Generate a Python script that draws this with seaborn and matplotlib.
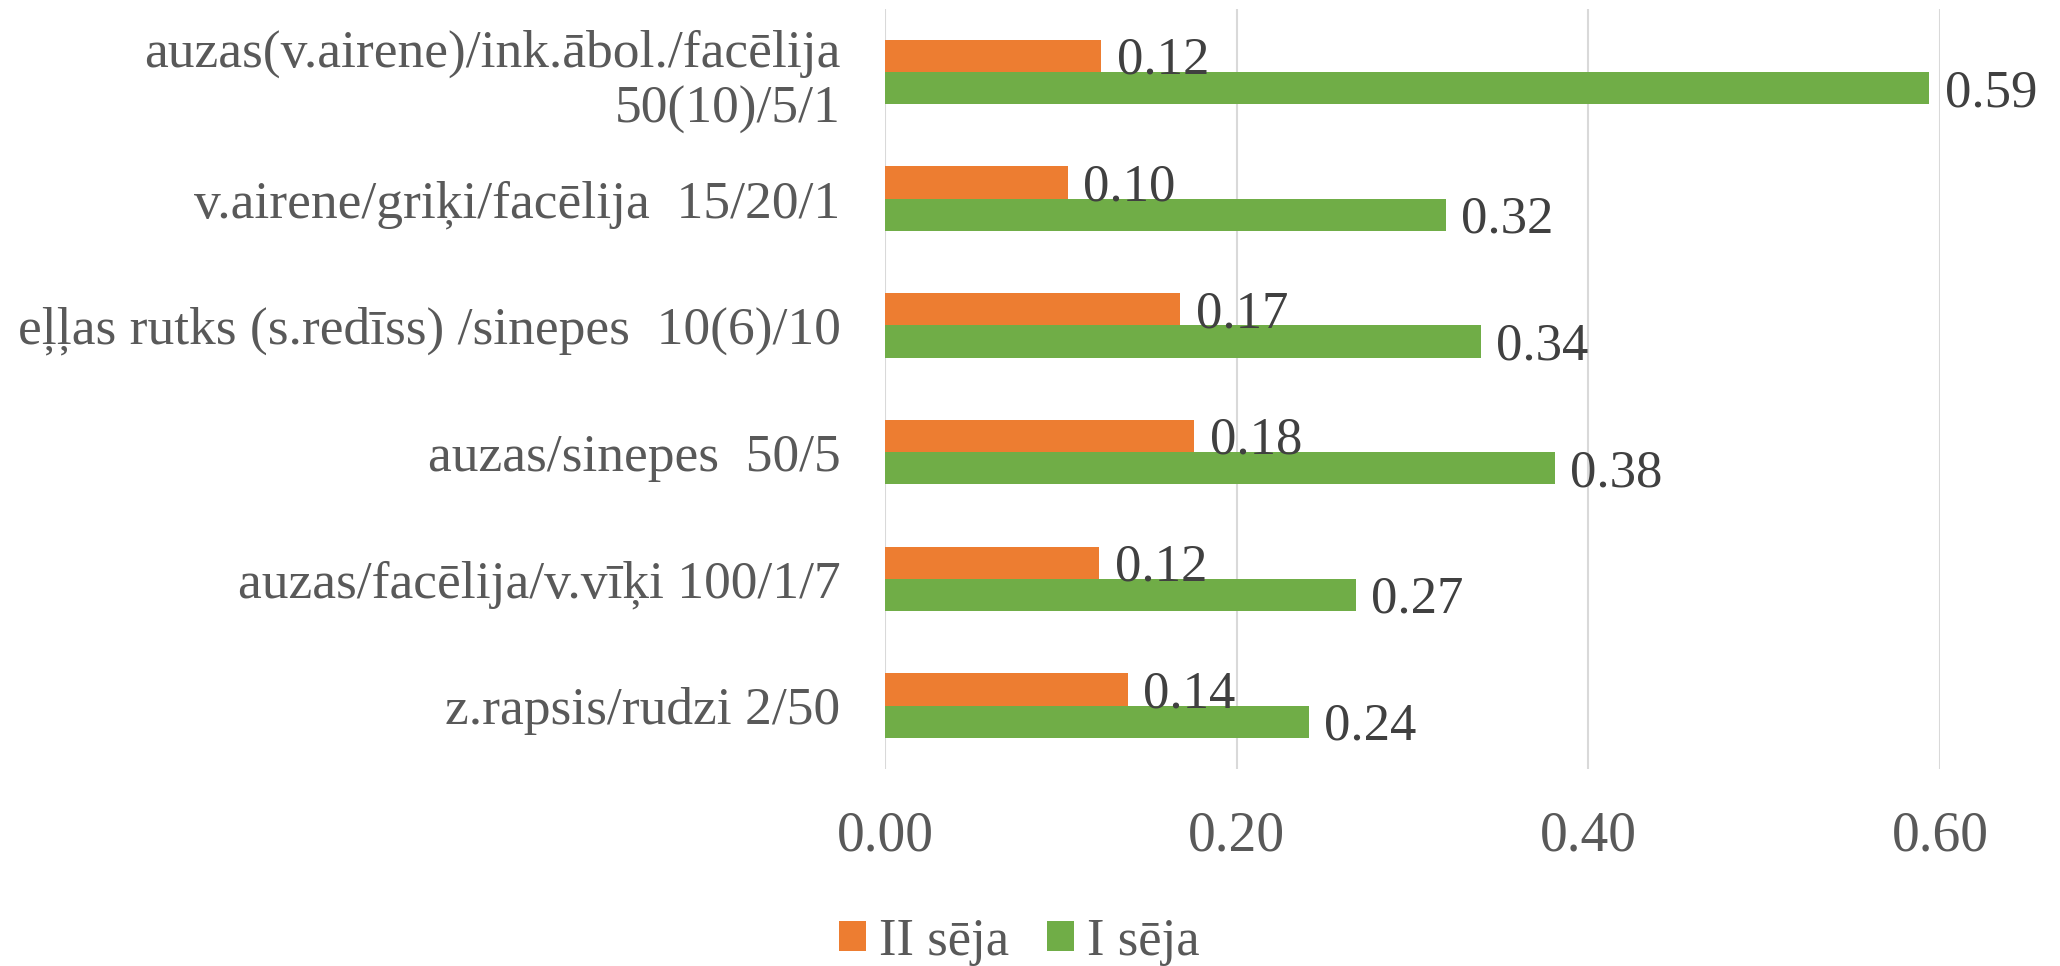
import matplotlib
matplotlib.use("Agg")
import matplotlib.pyplot as plt
import pandas as pd
import seaborn as sns

categories = [
    "auzas(v.airene)/ink.ābol./facēlija\n50(10)/5/1",
    "v.airene/griķi/facēlija  15/20/1",
    "eļļas rutks (s.redīss) /sinepes  10(6)/10",
    "auzas/sinepes  50/5",
    "auzas/facēlija/v.vīķi 100/1/7",
    "z.rapsis/rudzi 2/50",
]
sowing_2 = [0.123, 0.104, 0.168, 0.176, 0.122, 0.138]
sowing_1 = [0.594, 0.319, 0.339, 0.381, 0.268, 0.241]
series_names = ["II sēja", "I sēja"]
x_ticks = [0.0, 0.2, 0.4, 0.6]

colors = {"II sēja": "#ED7D31", "I sēja": "#70AD47"}

df = pd.DataFrame({
    "category": categories * 2,
    "value": sowing_2 + sowing_1,
    "series": [series_names[0]] * len(categories) + [series_names[1]] * len(categories),
})

sns.set_style("white")
plt.rcParams["font.family"] = ["Liberation Serif", "DejaVu Serif"]

fig = plt.figure(figsize=(20.6, 9.66), dpi=100)
ax = fig.add_axes([0.4296, 0.204, 0.5121, 0.787])

sns.barplot(
    data=df, x="value", y="category", hue="series",
    hue_order=series_names, order=categories, palette=colors,
    orient="h", width=0.51, gap=0, saturation=1, ax=ax,
    edgecolor="none", linewidth=0,
)

for container in ax.containers:
    labels = ax.bar_label(container, fmt="%.2f", padding=11, fontsize=38,
                          color="#404040", clip_on=False)
    for lbl in labels:
        lbl.xyann = (11, -3.5)

ax.set_xlim(0, 0.6)
ax.set_ylim(len(categories) - 0.5, -0.5)
ax.set_xticks(x_ticks)
ax.set_xticklabels([f"{t:.2f}" for t in x_ticks])
ax.grid(axis="x", color="#D9D9D9", linewidth=1.5)
ax.set_axisbelow(True)
for side in ax.spines.values():
    side.set_visible(False)

ax.tick_params(axis="y", length=0, pad=32, labelsize=38.5, labelcolor="#595959")
ax.tick_params(axis="x", length=0, pad=30, labelsize=40, labelcolor="#595959")
for lbl in ax.get_yticklabels():
    lbl.set_multialignment("right")
ax.set_xlabel("")
ax.set_ylabel("")

ax.legend_.remove()
handles, labels = ax.get_legend_handles_labels()
fig.legend(
    handles, labels, loc="center", bbox_to_anchor=(0.4947, 0.025), ncol=2,
    frameon=False, fontsize=38, handlelength=0.51, handleheight=0.51,
    handletextpad=0.25, columnspacing=0.72, labelcolor="#595959",
)

fig.savefig("out.png", dpi=100)
plt.close(fig)
